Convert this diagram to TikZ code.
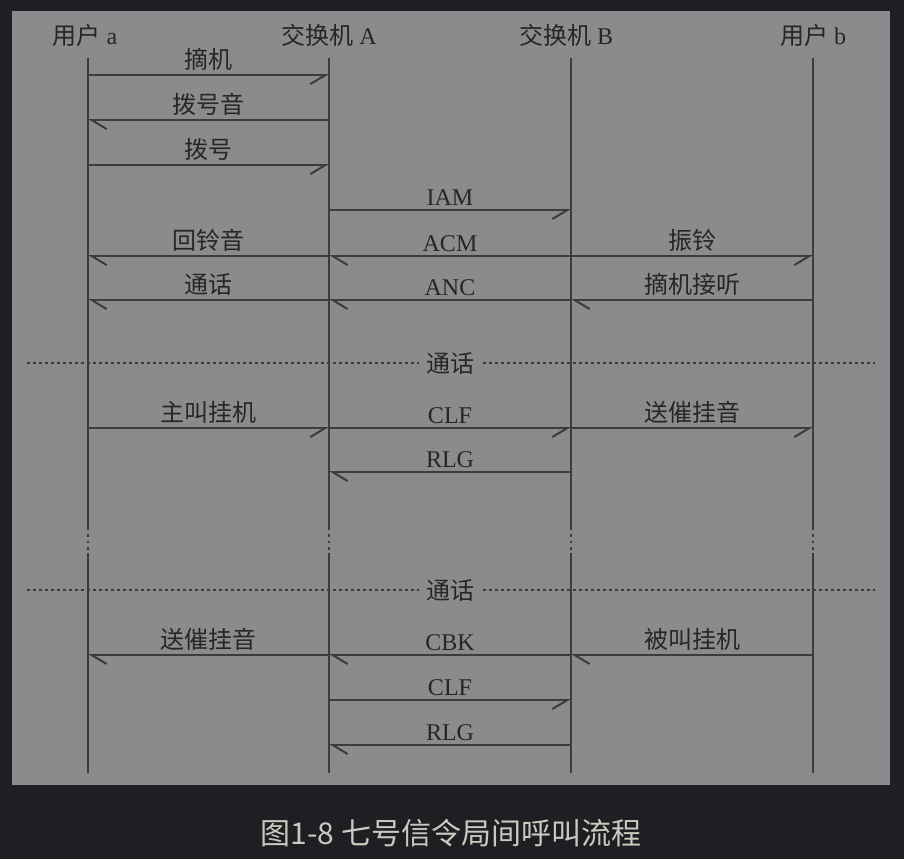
\documentclass[tikz,border=0pt]{standalone}
\usepackage{fontspec}
\setmainfont{Liberation Serif}
\newfontfamily\cjk{Noto Sans CJK SC}
\usepackage{tikz}
\usetikzlibrary{arrows.meta}
\definecolor{bgc}{HTML}{1E1F22}
\definecolor{panel}{HTML}{8A8B8D}
\definecolor{ink}{HTML}{3C3C3D}
\definecolor{txt}{HTML}{262626}
\definecolor{capc}{HTML}{CCC7BF}

\begin{document}
\begin{tikzpicture}[x=1pt,y=-1pt,
    line/.style={color=ink,line width=2.4pt},
    rmsg/.style={line,-{Straight Barb[harpoon,swap,length=15pt,width=18pt,line width=2pt]}},
    lmsg/.style={line,-{Straight Barb[harpoon,length=15pt,width=18pt,line width=2pt]}},
    lab/.style={above=3pt,inner sep=0pt,text=txt,font=\fontsize{24pt}{28pt}\selectfont},
    head/.style={inner sep=0pt,text=txt,font=\fontsize{24pt}{28pt}\selectfont},
    dots/.style={color=ink,line width=2.5pt,dash pattern=on 2.5pt off 3.5pt}]
   \fill[bgc] (0,0) rectangle (904,859);
   \fill[panel] (12,11) rectangle (890,785);
   % lifelines
   \foreach \n/\x in {ua/88,xa/329,xb/571,ub/813}{
     \coordinate (\n) at (\x,58);
     \coordinate (\n1) at (\x,530);
     \coordinate (\n2) at (\x,534);
     \coordinate (\n3) at (\x,550);
     \coordinate (\n4) at (\x,553);
     \coordinate (\n5) at (\x,773);
     \path[line] (\n) edge (\n1);
     \path[line,dash pattern=on 2.5pt off 4pt] (\n2) edge (\n3);
     \path[line] (\n4) edge (\n5);
   }
   \node[head] (ha) at (85,35) {{\cjk 用户} a};
   \node[head] (hA) at (329,35) {{\cjk 交换机} A};
   \node[head] (hB) at (566,35) {{\cjk 交换机} B};
   \node[head] (hb) at (813,35) {{\cjk 用户} b};
   % rows
   \foreach \r/\y in {r1/75,r2/120,r3/165,r4/210,r5/256,r6/300,r7/428,r8/472,r9/655,r10/700,r11/745}
     \coordinate (\r) at (0,\y);
   \path[rmsg] (ua |- r1) edge node[lab] {\cjk 摘机} (xa |- r1);
   \path[lmsg] (xa |- r2) edge node[lab] {\cjk 拨号音} (ua |- r2);
   \path[rmsg] (ua |- r3) edge node[lab] {\cjk 拨号} (xa |- r3);
   \path[rmsg] (xa |- r4) edge node[lab] {IAM} (xb |- r4);
   \path[lmsg] (xa |- r5) edge node[lab] {\cjk 回铃音} (ua |- r5);
   \path[lmsg] (xb |- r5) edge node[lab] {ACM} (xa |- r5);
   \path[rmsg] (xb |- r5) edge node[lab] {\cjk 振铃} (ub |- r5);
   \path[lmsg] (xa |- r6) edge node[lab] {\cjk 通话} (ua |- r6);
   \path[lmsg] (xb |- r6) edge node[lab] {ANC} (xa |- r6);
   \path[lmsg] (ub |- r6) edge node[lab] {\cjk 摘机接听} (xb |- r6);
   % talking
   \coordinate (d1l) at (27,363); \coordinate (d1r) at (875,363);
   \path[dots] (d1l) edge (d1r);
   \node[head,fill=panel,inner xsep=7pt,inner ysep=2pt] (t1) at (450,363) {\cjk 通话};
   \path[rmsg] (ua |- r7) edge node[lab] {\cjk 主叫挂机} (xa |- r7);
   \path[rmsg] (xa |- r7) edge node[lab] {CLF} (xb |- r7);
   \path[rmsg] (xb |- r7) edge node[lab] {\cjk 送催挂音} (ub |- r7);
   \path[lmsg] (xb |- r8) edge node[lab] {RLG} (xa |- r8);
   \coordinate (d2l) at (27,590); \coordinate (d2r) at (875,590);
   \path[dots] (d2l) edge (d2r);
   \node[head,fill=panel,inner xsep=7pt,inner ysep=2pt] (t2) at (450,590) {\cjk 通话};
   \path[lmsg] (xa |- r9) edge node[lab] {\cjk 送催挂音} (ua |- r9);
   \path[lmsg] (xb |- r9) edge node[lab] {CBK} (xa |- r9);
   \path[lmsg] (ub |- r9) edge node[lab] {\cjk 被叫挂机} (xb |- r9);
   \path[rmsg] (xa |- r10) edge node[lab] {CLF} (xb |- r10);
   \path[lmsg] (xb |- r11) edge node[lab] {RLG} (xa |- r11);
   \node[font=\cjk\fontsize{30pt}{34pt}\selectfont,text=capc] (cap) at (451,833) {图1-8 七号信令局间呼叫流程};
\end{tikzpicture}
\end{document}
